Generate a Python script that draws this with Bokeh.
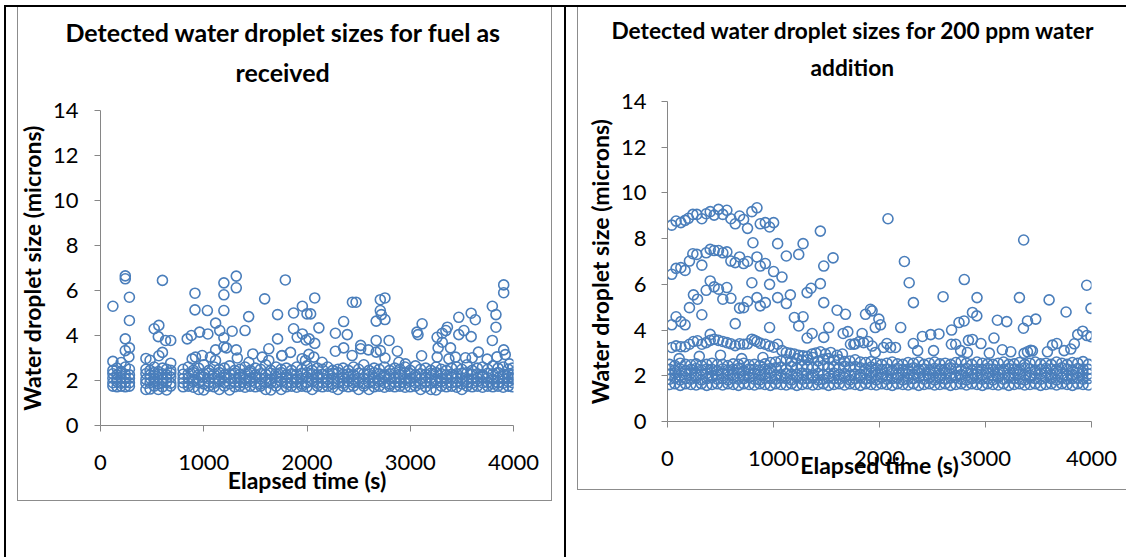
from bokeh.plotting import figure
from bokeh.layouts import row, column
from bokeh.models import Range1d, FixedTicker, Title, ColumnDataSource
from bokeh.embed import file_html
from bokeh.resources import INLINE

FONT = "Lato"
MARK = "#4a7ebb"
AXIS = "#868686"

x_ticks = [0, 1000, 2000, 3000, 4000]
y_ticks = [0, 2, 4, 6, 8, 10, 12, 14]

title_left = ["Detected water droplet sizes for fuel as", "received"]
title_right = ["Detected water droplet sizes for 200 ppm water", "addition"]
x_label = "Elapsed time (s)"
y_label = "Water droplet size (microns)"

# ---------------- left chart: fuel as received ----------------
left_times = [120, 160, 200, 240, 280,
              440, 480, 520, 560, 600, 640, 680,
              800, 850, 900, 950, 1000, 1050, 1100, 1150, 1200, 1250,
              1300, 1350, 1400, 1450, 1500, 1550, 1600, 1650, 1700, 1750,
              1800, 1850, 1900, 1950, 2000, 2050, 2100, 2150, 2200, 2250,
              2300, 2350, 2400, 2450, 2500, 2550, 2600, 2650, 2700, 2750,
              2800, 2850, 2900, 2950, 3000, 3050, 3100, 3150, 3200, 3250,
              3300, 3350, 3400, 3450, 3500, 3550, 3600, 3650, 3700, 3750,
              3800, 3850, 3900, 3950, 3990]
left_band1 = [1.75, 1.72, 1.75, 1.72, 1.75,
              1.6, 1.62, 1.75, 1.6, 1.72, 1.58, 1.75,
              1.72, 1.75, 1.7, 1.6, 1.58, 1.75, 1.72, 1.6, 1.75, 1.58,
              1.72, 1.75, 1.7, 1.75, 1.72, 1.75, 1.6, 1.58, 1.75, 1.6,
              1.72, 1.75, 1.7, 1.75, 1.72, 1.6, 1.75, 1.72, 1.75, 1.7,
              1.6, 1.75, 1.72, 1.75, 1.6, 1.75, 1.6, 1.72, 1.75, 1.7,
              1.75, 1.72, 1.75, 1.7, 1.72, 1.75, 1.6, 1.72, 1.6, 1.58,
              1.75, 1.72, 1.75, 1.7, 1.6, 1.75, 1.72, 1.75, 1.7, 1.75,
              1.72, 1.75, 1.7, 1.75, 1.72]
left_band2 = [1.9, 1.95, 1.88, 1.92, 1.9,
              1.88, 1.9, 1.95, 1.85, 1.9, 1.92, 1.88,
              1.9, 1.88, 1.95, 1.9, 1.85, 1.92, 1.88, 1.95, 1.9, 1.86,
              1.92, 1.9, 1.88, 1.95, 1.9, 1.85, 1.92, 1.88, 1.9, 1.95,
              1.88, 1.9, 1.92, 1.86, 1.9, 1.95, 1.88, 1.9, 1.92, 1.85,
              1.9, 1.88, 1.95, 1.9, 1.92, 1.86, 1.9, 1.88, 1.95, 1.9,
              1.85, 1.92, 1.9, 1.88, 1.95, 1.9, 1.86, 1.92, 1.88, 1.9,
              1.95, 1.88, 1.9, 1.92, 1.85, 1.9, 1.88, 1.95, 1.9, 1.92,
              1.86, 1.9, 1.88, 1.95, 1.9]
left_band3 = [2.1, 2.05, 2.12, 2.08, 2.1,
              2.05, 2.1, 2.08, 2.12, 2.05, 2.1, 2.15,
              2.08, 2.12, 2.05, 2.1, 2.15, 2.08, 2.1, 2.05, 2.12, 2.1,
              2.08, 2.15, 2.05, 2.1, 2.12, 2.08, 2.1, 2.05, 2.15, 2.1,
              2.12, 2.08, 2.05, 2.1, 2.15, 2.08, 2.12, 2.1, 2.05, 2.1,
              2.08, 2.12, 2.15, 2.05, 2.1, 2.08, 2.12, 2.1, 2.05, 2.15,
              2.1, 2.08, 2.12, 2.05, 2.1, 2.15, 2.08, 2.1, 2.12, 2.05,
              2.1, 2.08, 2.15, 2.1, 2.12, 2.05, 2.08, 2.1, 2.15, 2.12,
              2.05, 2.1, 2.08, 2.12, 2.07]
left_band4 = [2.3, 2.25, 2.32, 2.28, 2.25,
              2.3, 2.25, 2.35, 2.28, 2.3, 2.25, 2.32,
              2.28, 2.3, 2.35, 2.25, 2.3, 2.32, 2.28, 2.35, 2.25, 2.3,
              2.32, 2.28, 2.3, 2.35, 2.25, 2.3, 2.28, 2.32, 2.3, 2.35,
              2.25, 2.3, 2.28, 2.32, 2.35, 2.3, 2.25, 2.28, 2.3, 2.32,
              2.35, 2.28, 2.3, 2.25, 2.32, 2.3, 2.28, 2.35, 2.3, 2.25,
              2.3, 2.32, 2.28, 2.35, 2.3, 2.25, 2.3, 2.28, 2.32, 2.35,
              2.3, 2.25, 2.28, 2.3, 2.32, 2.35, 2.28, 2.3, 2.25, 2.32,
              2.3, 2.35, 2.28, 2.3, 2.25]
left_band5 = [2.45, 2.55, 2.4, 2.6, 2.5,
              2.5, 2.45, 2.6, 2.4, 2.55, 2.5, 2.45,
              2.5, 2.6, 2.45, 2.55, 2.7, 2.45, 2.6, 2.5, 2.55, 2.65,
              2.45, 2.5, 2.6, 2.45, 2.55, 2.5, 2.7, 2.45, 2.6, 2.5,
              2.55, 2.45, 2.6, 2.5, 2.65, 2.45, 2.55, 2.5, 2.6, 2.45,
              2.5, 2.55, 2.45, 2.6, 2.5, 2.7, 2.45, 2.55, 2.5, 2.6,
              2.45, 2.55, 2.5, 2.6, 2.45, 2.65, 2.5, 2.55, 2.45, 2.6,
              2.5, 2.45, 2.55, 2.6, 2.5, 2.7, 2.45, 2.55, 2.6, 2.5,
              2.65, 2.55, 2.6, 2.5, 2.55]
left_extra_t = [120, 240, 240, 280, 280, 240, 240, 280, 275, 120, 200,
                600, 520, 565, 560, 630, 680, 600, 565, 440, 480, 680,
                915, 915, 1035, 840, 880, 960, 1040, 1115, 1155, 1195, 1195, 1195,
                1315, 1315, 1275, 1195, 1195, 1220, 1115, 1315, 1325, 1400, 1435,
                1475, 1590, 1630, 1715, 1715, 1790, 1755, 1840, 1870, 1870, 1955,
                1905, 1955, 1990, 2000, 1953,
                2075, 2035, 2115, 2020, 2075, 2440, 2475, 2275, 2355, 2390, 2275,
                2355, 2520, 2520, 2595, 2670, 2710, 2755, 2710, 2720, 2670, 2755,
                2795, 2710, 2755, 2875, 3065, 3075, 3115, 3110, 3260, 3310, 3360,
                3345, 3270, 3310, 3390, 3470, 3470, 3520, 3590, 3630, 3590, 3660,
                3795, 3830, 3830, 3795, 3905, 3905, 3905, 3920, 3840, 3745, 4005,
                2018, 2066, 2147, 2437, 2670, 2889, 2953, 3261, 3374, 3438, 3535,
                3600, 3961, 888, 920, 985, 1065, 1114, 1437, 1566, 1630, 1759, 1985]
left_extra_y = [5.3, 6.65, 6.52, 5.7, 4.67, 3.85, 3.33, 3.45, 3.05, 2.85, 2.8,
                6.45, 4.3, 4.45, 3.95, 3.78, 3.78, 3.25, 3.1, 2.98, 2.9, 2.77,
                5.88, 5.14, 5.11, 3.85, 4.0, 4.15, 4.07, 4.55, 4.22, 6.34, 5.81, 5.11,
                6.64, 6.12, 4.19, 3.9, 3.5, 3.45, 3.36, 3.36, 3.0, 4.22, 4.84,
                3.18, 5.63, 3.41, 3.85, 4.93, 6.47, 3.1, 3.25, 5.0, 4.3, 5.3,
                3.92, 4.07, 3.8, 4.96, 2.97,
                5.67, 4.96, 4.34, 3.85, 3.65, 5.48, 5.48, 4.1, 4.62, 4.04, 3.3,
                3.45, 3.56, 3.41, 3.36, 3.78, 5.59, 5.67, 5.11, 4.93, 4.64, 4.71,
                3.78, 3.33, 3.0, 3.3, 4.15, 4.04, 4.52, 3.1, 3.92, 4.1, 4.37,
                4.22, 3.45, 3.7, 3.45, 4.81, 4.04, 4.22, 4.99, 4.7, 3.95, 3.26,
                5.3, 4.93, 4.37, 3.78, 6.25, 5.9, 3.36, 3.15, 3.05, 2.95, 2.07,
                3.16, 3.04, 2.81, 3.11, 3.26, 2.81, 2.74, 3.04, 2.96, 3.04, 3.01,
                3.01, 2.74, 2.96, 3.04, 3.11, 3.04, 2.89, 2.81, 3.04, 2.89, 3.11, 2.89]

# ---------------- right chart: 200 ppm water addition ----------------
right_times = [20, 70, 120, 170, 220, 270, 320, 370, 420, 470,
               520, 570, 620, 670, 720, 770, 820, 870, 920, 970,
               1020, 1070, 1120, 1170, 1220, 1270, 1320, 1370, 1420, 1470,
               1520, 1570, 1620, 1670, 1720, 1770, 1820, 1870, 1920, 1970,
               2020, 2070, 2120, 2170, 2220, 2270, 2320, 2370, 2420, 2470,
               2520, 2570, 2620, 2670, 2720, 2770, 2820, 2870, 2920, 2970,
               3020, 3070, 3120, 3170, 3220, 3270, 3320, 3370, 3420, 3470,
               3520, 3570, 3620, 3670, 3720, 3770, 3820, 3870, 3920, 3970]
right_band1 = [1.62, 1.65, 1.58, 1.65, 1.62, 1.6, 1.65, 1.58, 1.62, 1.65,
               1.6, 1.65, 1.62, 1.58, 1.65, 1.62, 1.6, 1.65, 1.62, 1.58,
               1.65, 1.62, 1.6, 1.65, 1.58, 1.62, 1.65, 1.6, 1.62, 1.65,
               1.58, 1.62, 1.65, 1.6, 1.65, 1.62, 1.58, 1.65, 1.62, 1.6,
               1.65, 1.62, 1.58, 1.65, 1.62, 1.6, 1.65, 1.58, 1.62, 1.65,
               1.6, 1.62, 1.65, 1.58, 1.62, 1.65, 1.6, 1.65, 1.62, 1.58,
               1.65, 1.62, 1.6, 1.65, 1.58, 1.62, 1.65, 1.6, 1.62, 1.65,
               1.58, 1.62, 1.65, 1.6, 1.65, 1.62, 1.58, 1.65, 1.62, 1.6]
right_band2 = [1.85, 1.9, 1.82, 1.88, 1.85, 1.9, 1.82, 1.88, 1.92, 1.85,
               1.88, 1.82, 1.9, 1.85, 1.88, 1.92, 1.85, 1.82, 1.9, 1.88,
               1.85, 1.9, 1.88, 1.82, 1.92, 1.85, 1.88, 1.9, 1.82, 1.85,
               1.9, 1.88, 1.85, 1.92, 1.82, 1.88, 1.9, 1.85, 1.88, 1.82,
               1.92, 1.85, 1.88, 1.9, 1.82, 1.85, 1.88, 1.92, 1.85, 1.9,
               1.82, 1.88, 1.85, 1.9, 1.92, 1.85, 1.82, 1.88, 1.9, 1.85,
               1.88, 1.82, 1.92, 1.85, 1.9, 1.88, 1.85, 1.82, 1.9, 1.88,
               1.85, 1.92, 1.88, 1.82, 1.9, 1.85, 1.88, 1.9, 1.85, 1.88]
right_band3 = [2.05, 2.1, 2.02, 2.08, 2.12, 2.05, 2.08, 2.1, 2.02, 2.05,
               2.1, 2.08, 2.05, 2.12, 2.02, 2.08, 2.1, 2.05, 2.08, 2.12,
               2.02, 2.05, 2.1, 2.08, 2.05, 2.12, 2.08, 2.02, 2.1, 2.05,
               2.08, 2.12, 2.05, 2.1, 2.02, 2.08, 2.05, 2.1, 2.12, 2.05,
               2.08, 2.02, 2.1, 2.05, 2.12, 2.08, 2.05, 2.1, 2.02, 2.08,
               2.12, 2.05, 2.1, 2.08, 2.02, 2.05, 2.12, 2.1, 2.08, 2.05,
               2.1, 2.02, 2.08, 2.12, 2.05, 2.1, 2.08, 2.05, 2.02, 2.1,
               2.08, 2.12, 2.05, 2.1, 2.08, 2.02, 2.05, 2.12, 2.1, 2.08]
right_band4 = [2.28, 2.25, 2.3, 2.22, 2.28, 2.32, 2.25, 2.3, 2.28, 2.22,
               2.3, 2.25, 2.28, 2.32, 2.22, 2.3, 2.28, 2.25, 2.3, 2.32,
               2.35, 2.38, 2.3, 2.4, 2.35, 2.42, 2.38, 2.35, 2.4, 2.45,
               2.38, 2.4, 2.35, 2.42, 2.38, 2.4, 2.35, 2.3, 2.38, 2.32,
               2.28, 2.3, 2.25, 2.32, 2.28, 2.3, 2.35, 2.28, 2.3, 2.25,
               2.32, 2.28, 2.3, 2.35, 2.3, 2.28, 2.32, 2.25, 2.3, 2.28,
               2.32, 2.3, 2.25, 2.28, 2.32, 2.3, 2.28, 2.35, 2.3, 2.25,
               2.28, 2.32, 2.3, 2.28, 2.35, 2.3, 2.25, 2.32, 2.3, 2.28]
right_band5 = [2.5, 2.45, 2.55, 2.5, 2.48, 2.52, 2.45, 2.5, 2.55, 2.48,
               2.5, 2.45, 2.52, 2.5, 2.55, 2.48, 2.5, 2.45, 2.52, 2.58,
               2.6, 2.65, 2.7, 2.62, 2.75, 2.68, 2.7, 2.8, 2.65, 2.72,
               2.75, 2.68, 2.7, 2.62, 2.65, 2.7, 2.6, 2.58, 2.62, 2.55,
               2.5, 2.55, 2.6, 2.52, 2.5, 2.58, 2.55, 2.6, 2.5, 2.55,
               2.6, 2.52, 2.55, 2.5, 2.58, 2.62, 2.55, 2.5, 2.6, 2.55,
               2.52, 2.5, 2.55, 2.6, 2.5, 2.52, 2.58, 2.5, 2.55, 2.6,
               2.52, 2.55, 2.5, 2.6, 2.55, 2.5, 2.58, 2.55, 2.62, 2.5]
right_extra_t = [40, 81, 126, 166, 198, 239, 277, 324, 365, 403, 440, 481, 522, 560,
                 598, 639, 680, 718, 755, 796, 844, 875, 923, 963, 1001,
                 40, 81, 126, 166, 207, 239, 277, 324, 365, 403, 440, 481, 522, 560,
                 598, 639, 680, 718, 755, 806, 844, 875, 923, 796, 963, 1001, 1039,
                 1080, 1121, 1238, 1279, 1442, 1474, 1562,
                 40, 81, 126, 166, 207, 245, 283, 324, 365, 403, 440, 481, 522, 560,
                 598, 639, 680, 718, 755, 844, 875, 923, 963, 1039, 1121, 1159, 1197,
                 1238, 1279, 1317, 1354, 1442, 1474, 1521, 1600, 1679, 1317, 1364,
                 1474, 1657, 1701, 1758, 1836, 1868, 1915, 1994,
                 40, 81, 126, 166, 207, 245, 283, 324, 365, 403, 403, 440, 481, 522,
                 560, 598, 639, 680, 718, 755, 796, 820, 844, 875, 923, 963, 1001,
                 1039, 1080, 1121, 1159, 1197, 1238, 1279, 1317, 1364, 1400, 1442,
                 1490, 1540, 1600, 1650, 1726, 1770, 1810, 1850, 1890, 1930,
                 110, 300, 500, 700, 900,
                 2080, 2235, 2280, 2320, 2200, 2600, 2800, 2920, 2680, 2750, 2798,
                 2877, 2918, 2561, 2483, 2405, 2319, 2839, 2877, 2957, 3080, 3112,
                 3200, 3360, 3320, 3358, 3396, 3474, 3600, 3760, 3955, 3995, 3917,
                 3870, 3957, 3995, 3838, 3673, 3632, 3584, 3159, 3238, 3427, 2070,
                 2038, 1960, 1930, 1960, 2104, 2151, 2360, 2510, 2678, 2719, 2766,
                 2829, 3036, 3364, 3396, 3443, 3742, 3805, 2010]
right_extra_y = [8.59, 8.77, 8.7, 8.8, 8.89, 9.06, 9.06, 8.87, 9.09, 9.18, 9.03, 9.28, 9.06, 9.24,
                 8.87, 8.65, 8.99, 8.84, 8.45, 9.18, 9.35, 8.65, 8.7, 8.51, 8.7,
                 6.44, 6.7, 6.73, 6.61, 7.02, 7.34, 7.31, 6.84, 7.38, 7.53, 7.48, 7.48, 7.38, 7.42,
                 7.02, 6.95, 7.2, 6.91, 7.0, 7.82, 7.2, 6.8, 6.91, 6.07, 6.0, 6.56, 7.78,
                 6.32, 7.24, 7.31, 7.78, 8.33, 6.8, 7.16,
                 4.23, 4.58, 4.37, 4.23, 4.98, 5.54, 5.35, 4.67, 5.74, 6.15, 5.89, 5.79, 5.35, 5.86,
                 5.39, 4.28, 4.96, 4.98, 5.25, 5.42, 5.06, 5.2, 4.11, 5.42, 5.16, 5.54, 4.55,
                 4.18, 4.58, 5.64, 5.83, 6.03, 5.2, 4.11, 4.87, 4.69, 3.65, 3.85,
                 3.68, 3.85, 3.93, 3.38, 3.85, 4.69, 4.91, 4.48,
                 3.24, 3.31, 3.27, 3.27, 3.38, 3.5, 3.53, 3.38, 3.45, 3.81, 3.55, 3.6, 3.55, 3.5,
                 3.45, 3.4, 3.32, 3.4, 3.38, 3.4, 3.6, 3.55, 3.5, 3.42, 3.38, 3.3, 3.25,
                 3.38, 3.1, 3.02, 2.98, 2.95, 2.9, 2.87, 2.85, 2.95, 3.0, 3.05,
                 2.95, 3.02, 2.9, 2.95, 3.38, 3.4, 3.5, 3.45, 3.5, 3.3,
                 2.75, 2.85, 2.9, 2.75, 2.8,
                 8.87, 7.0, 6.07, 5.2, 4.11, 5.46, 6.21, 5.42, 4.0, 4.33, 4.4,
                 4.77, 4.62, 3.83, 3.8, 3.72, 3.41, 3.55, 3.59, 3.41, 3.65, 4.43,
                 4.37, 7.94, 5.42, 4.08, 4.4, 4.48, 5.32, 4.79, 5.96, 4.95, 3.95,
                 3.8, 3.76, 3.71, 3.4, 3.41, 3.34, 3.05, 3.14, 3.05, 3.12, 3.41,
                 3.24, 3.02, 4.84, 4.11, 3.24, 3.24, 3.1, 3.1, 3.38, 3.38, 3.1,
                 3.02, 2.99, 2.98, 3.05, 3.09, 3.1, 3.17, 4.23]


def collect(times, rows, extra_t, extra_y):
    xs, ys = [], []
    for r in rows:
        for t, v in zip(times, r):
            xs.append(t)
            ys.append(v)
    for t, v in zip(extra_t, extra_y):
        xs.append(t)
        ys.append(v)
    return ColumnDataSource(data=dict(t=xs, d=ys))


def make_chart(src, titles, width, height, margin, frame, cfg):
    left, right, top, bottom = frame
    p = figure(width=width, height=height, x_range=Range1d(0, 4000), y_range=Range1d(0, 14),
               output_backend="svg", toolbar_location=None, title=None,
               min_border_left=left, min_border_right=right,
               min_border_top=top, min_border_bottom=bottom,
               border_fill_color=None, background_fill_color=None,
               outline_line_color=None, margin=margin)
    p.grid.visible = False
    p.xaxis.ticker = FixedTicker(ticks=x_ticks)
    p.yaxis.ticker = FixedTicker(ticks=y_ticks)
    p.xaxis.axis_label = x_label
    p.yaxis.axis_label = y_label
    for ax in (p.xaxis[0], p.yaxis[0]):
        ax.axis_line_color = AXIS
        ax.axis_line_width = 1
        ax.major_tick_line_color = AXIS
        ax.minor_tick_line_color = None
        ax.major_tick_in = 0
        ax.major_tick_out = 6
        ax.major_label_text_font = FONT
        ax.major_label_text_font_size = cfg["tick_fs"]
        ax.major_label_text_color = "black"
        ax.axis_label_text_font = FONT
        ax.axis_label_text_font_style = "bold"
        ax.axis_label_text_font_size = cfg["label_fs"]
        ax.axis_label_text_color = "black"
    p.xaxis.major_label_standoff = cfg["x_standoff"]
    p.xaxis.axis_label_standoff = cfg["x_label_standoff"]
    p.yaxis.major_label_standoff = cfg["y_standoff"]
    p.yaxis.axis_label_standoff = cfg["y_label_standoff"]
    # blank spacer between the frame and the title lines
    p.add_layout(Title(text=" ", text_font=FONT, text_font_size=cfg["spacer_fs"],
                       text_line_height=1.0), "above")
    # title lines: the lower line is added first so that it sits next to the spacer;
    # the two lines are pulled together with opposite vertical alignments
    valigns = ["bottom", "top"]
    for text, off, va in reversed(list(zip(titles, cfg["title_offsets"], valigns))):
        t = Title(text=text, align="left", offset=off, vertical_align=va,
                  text_font=FONT, text_font_style="bold", text_line_height=0.8,
                  text_font_size=cfg["title_fs"], text_color="black")
        p.add_layout(t, "above")
    p.scatter("t", "d", source=src, marker="circle", size=10, fill_color=None,
              line_color=MARK, line_width=1.6)
    return p


src_left = collect(left_times, [left_band1, left_band2, left_band3, left_band4, left_band5],
                   left_extra_t, left_extra_y)
src_right = collect(right_times, [right_band1, right_band2, right_band3, right_band4, right_band5],
                    right_extra_t, right_extra_y)

# left figure: x 7..564, y 7..557 ; frame x 100..513, y 110..425
p1 = make_chart(src_left, title_left, 557, 550, (7, 0, 0, 7), (93, 51, 103, 132),
                dict(tick_fs="22px", label_fs="23px", title_fs="25px",
                     spacer_fs="4px", title_offsets=[-35, 135],
                     x_standoff=23, x_label_standoff=-7, y_standoff=16, y_label_standoff=4))
# right figure: x 567..1126, y 7..557 ; frame x 667..1091, y 101..421
p2 = make_chart(src_right, title_right, 559, 550, (7, 0, 0, 3), (100, 35, 94, 136),
                dict(tick_fs="22px", label_fs="23px", title_fs="22.7px",
                     spacer_fs="2px", title_offsets=[-56, 143],
                     x_standoff=23, x_label_standoff=-18, y_standoff=15, y_label_standoff=4))

GRAY = "#8c8c8c"


def bar(color, x, y, w, h):
    return f"linear-gradient({color},{color}) {x}px {y}px / {w}px {h}px no-repeat"


table_lines = ", ".join([
    bar("#000", 4, 5, 2, 552),      # table left edge
    bar("#000", 4, 5, 1122, 2),     # table top edge
    bar("#000", 564, 5, 2, 552),    # table middle divider
    bar(GRAY, 17, 5, 1, 496),       # left chart area
    bar(GRAY, 551, 5, 1, 496),
    bar(GRAY, 17, 500, 535, 1),
    bar(GRAY, 577, 5, 1, 485),      # right chart area
    bar(GRAY, 577, 489, 549, 1),
])
layout = row(column(p1), column(p2), spacing=0, styles={"background": table_lines})

open("out.html", "w").write(file_html(layout, INLINE))
